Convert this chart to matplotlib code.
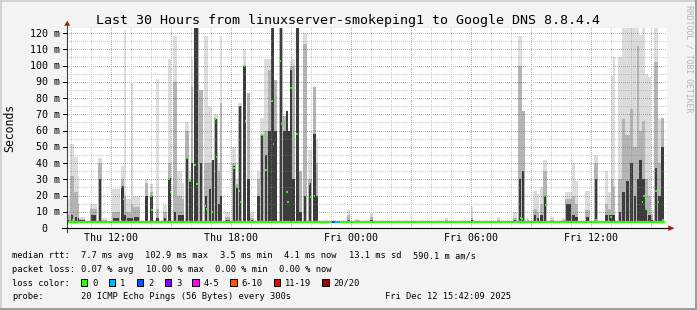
import matplotlib
matplotlib.use("Agg")
import numpy as np
import matplotlib.pyplot as plt
import matplotlib.transforms as mtransforms
from matplotlib.patches import Rectangle, Polygon

# ---------------- data ----------------
title = "Last 30 Hours from linuxserver-smokeping1 to Google DNS 8.8.4.4"
x_start_hour = 9.8     # Thu 09:48 (hours since Thu 00:00)
x_end_hour = 39.8      # Fri 15:48
last_data_hour = 39.72
x_tick_hours = [12, 18, 24, 30, 36]
x_tick_labels = ["Thu 12:00", "Thu 18:00", "Fri 00:00", "Fri 06:00", "Fri 12:00"]
y_tick_values = [0, 10, 20, 30, 40, 50, 60, 70, 80, 90, 100, 110, 120]
y_tick_labels = ["0", "10 m", "20 m", "30 m", "40 m", "50 m", "60 m", "70 m",
                 "80 m", "90 m", "100 m", "110 m", "120 m"]
y_max_ms = 123.08
baseline_median_ms = 4.0
min_rtt_ms = 3.5

# smoke (ping spread) per event: centre hour, duration (minutes), ms levels
smoke_hour = [9.85, 10.05, 10.25, 10.375, 10.55, 11.125, 11.45, 11.675, 12.25, 12.575,
              12.7, 12.875, 13.05, 13.275, 13.775, 14.025, 14.325, 14.7, 14.925, 15.2,
              15.425, 15.6, 15.8, 15.95, 16.05, 16.275, 16.5, 16.75, 16.95, 17.1,
              17.25, 17.425, 17.5, 17.825, 18.15, 18.3, 18.45, 18.675, 18.875, 19.05,
              19.375, 19.55, 19.75, 19.925, 20.075, 20.225, 20.5, 20.675, 20.8, 20.9,
              21.0, 21.125, 21.325, 21.475, 21.7, 21.95, 22.175, 22.3, 23.875, 24.3,
              25.025, 28.775, 30.05, 31.375, 32.2, 32.45, 32.6, 32.85, 33.2, 33.35,
              33.525, 33.7, 34.05, 34.625, 34.875, 35.125, 35.275, 35.825, 36.25, 36.775,
              36.95, 37.05, 37.15, 37.45, 37.625, 37.825, 38.025, 38.2, 38.35, 38.475,
              38.625, 38.75, 38.925, 39.05, 39.25, 39.425, 39.575]
smoke_minutes = [10, 10, 10, 5, 20, 20, 10, 15, 25, 10,
                 5, 15, 5, 20, 10, 10, 10, 10, 10, 10,
                 15, 5, 10, 5, 5, 15, 10, 10, 10, 5,
                 10, 10, 5, 15, 10, 5, 10, 10, 10, 10,
                 10, 10, 10, 10, 10, 10, 10, 10, 5, 5,
                 5, 10, 10, 10, 10, 10, 10, 5, 10, 10,
                 10, 10, 5, 10, 10, 10, 10, 5, 10, 5,
                 10, 10, 10, 10, 20, 10, 10, 15, 10, 10,
                 10, 5, 5, 10, 10, 15, 10, 10, 5, 10,
                 10, 10, 10, 5, 10, 10, 10]
smoke_top_ms = [18, 52, 44, 32, 7, 15, 43, 6, 24, 38,
                122, 18, 89, 20, 30, 27, 92, 14, 104, 118,
                35, 28, 65, 35, 104, 123, 85, 118, 75, 42,
                70, 40, 118, 10, 50, 30, 77, 110, 83, 10,
                35, 68, 104, 104, 123, 91, 123, 69, 72, 60,
                103, 104, 123, 35, 120, 48, 87, 55, 11, 5.5,
                9, 6, 13, 7, 10, 118, 72, 6, 23, 21,
                25, 42, 7, 6, 22, 40, 29, 23, 45, 35,
                22, 94, 105, 105, 123, 123, 123, 123, 123, 119,
                123, 95, 93, 11, 123, 67, 68]
smoke_mid_ms = [8, 32, 22, 15, 5.5, 12, 40, 5, 10, 30,
                20, 10, 15, 13, 28, 22, 12, 10, 40, 90,
                20, 18, 60, 30, 87, 123, 85, 40, 40, 42,
                67, 35, 77, 7, 40, 27, 75, 100, 83, 6,
                30, 57, 60, 97, 123, 91, 123, 69, 72, 60,
                100, 100, 123, 35, 113, 30, 87, 40, 8, 5,
                7, 5, 6, 5, 6, 100, 72, 5, 12, 10,
                15, 35, 5, 5, 18, 20, 15, 11, 40, 15,
                12, 30, 25, 30, 67, 57, 73, 50, 112, 60,
                66, 30, 20, 8, 102, 40, 68]
smoke_dark_ms = [5, 8, 7, 6, 5, 8, 30, 4.5, 6, 26,
                 8, 6, 6, 7, 20, 20, 6, 6, 31, 10,
                 8, 8, 43, 29, 40, 123, 40, 20, 24, 42,
                 67, 15, 20, 5, 38, 25, 75, 100, 30, 5,
                 20, 57, 45, 60, 123, 60, 123, 60, 72, 60,
                 97, 30, 123, 10, 20, 28, 58, 20, 5, 4.5,
                 5, 4.5, 5, 4.5, 5, 30, 35, 4.5, 8, 6,
                 8, 20, 4.5, 4.5, 15, 8, 7, 7, 30, 8,
                 8, 8, 8, 10, 22, 29, 40, 20, 30, 42,
                 30, 12, 8, 5, 37, 20, 50]

# elevated median values (one 5-minute step each)
median_hour = [10.075, 12.525, 12.625, 13.985, 14.065, 14.9, 14.975, 15.8, 15.95, 16.2,
               16.3, 16.725, 16.8, 17.075, 17.2, 17.3, 18.15, 18.3, 18.425, 18.5,
               18.65, 18.725, 19.55, 19.625, 19.75, 20.05, 20.125, 20.475, 20.55, 20.8,
               20.85, 21.0, 21.3, 21.925, 22.0, 22.175, 32.475, 32.55, 33.675, 33.75,
               36.25, 37.0, 38.575, 38.65, 38.75, 39.25, 39.35, 39.6]
median_ms = [5, 25, 18, 20, 11, 30, 22, 43, 29, 39,
             27, 13.5, 12, 10, 67, 44, 37, 25, 23, 16,
             100, 66, 57, 36, 36, 78, 52, 103, 64, 22,
             16, 86, 58, 27, 19, 20, 6, 5.5, 20, 14,
             5, 6.5, 16, 20, 12, 23, 16, 5]

# steps with packet loss (start hour, minutes, loss class index)
loss_hour = [23.05, 23.2]
loss_minutes = [10, 15]
loss_class = [2, 1]

loss_labels = ["0", "1", "2", "3", "4-5", "6-10", "11-19", "20/20"]
loss_colors = ["#26ff00", "#00b8ff", "#0059ff", "#7e00ff", "#ff00ff",
               "#ff5500", "#ff0000", "#a10000"]

rtt_stats = ["7.7 ms avg", "102.9 ms max", "3.5 ms min", "4.1 ms now",
             "13.1 ms sd", "590.1 m am/s"]
loss_stats = ["0.07 % avg", "10.00 % max", "0.00 % min", "0.00 % now"]
probe_text = "20 ICMP Echo Pings (56 Bytes) every 300s"
stamp_text = "Fri Dec 12 15:42:09 2025"
watermark = "RRDTOOL / TOBI OETIKER"

# ---------------- figure ----------------
W, H = 697, 310
PW, PH = 600, 200          # plot area in pixels
MONO = "DejaVu Sans Mono"
fig = plt.figure(figsize=(W / 100, H / 100), dpi=100)
fig.patch.set_facecolor("#f3f3f3")

ax = fig.add_axes([67 / W, (H - 228) / H, PW / W, PH / H])
ax.set_facecolor("white")
for s in ax.spines.values():
    s.set_visible(False)
ax.set_xticks([])
ax.set_yticks([])

px_ms = y_max_ms / PH  # ms per pixel

# smoke
widths = [m / 60.0 for m in smoke_minutes]
ax.bar(smoke_hour, [t - min_rtt_ms for t in smoke_top_ms], bottom=min_rtt_ms,
       width=widths, color="#dcdcdc", linewidth=0, zorder=1)
ax.bar(smoke_hour, [t - min_rtt_ms for t in smoke_mid_ms], bottom=min_rtt_ms,
       width=widths, color="#b4b4b4", linewidth=0, zorder=2)
ax.bar(smoke_hour, [t - min_rtt_ms for t in smoke_dark_ms], bottom=min_rtt_ms,
       width=[w * 0.8 for w in widths], color="#3c3c3c", linewidth=0, zorder=3)

# baseline median
ax.fill_between([x_start_hour, last_data_hour],
                baseline_median_ms - px_ms, baseline_median_ms + px_ms,
                color=loss_colors[0], linewidth=0, zorder=4)
# loss-coloured steps on the baseline
ax.bar([h + m / 120.0 for h, m in zip(loss_hour, loss_minutes)], 2 * px_ms,
       bottom=baseline_median_ms - px_ms, width=[m / 60.0 for m in loss_minutes],
       color=[loss_colors[c] for c in loss_class], linewidth=0, align="center", zorder=5)
# elevated medians
ax.bar(median_hour, 2 * px_ms, bottom=[m - px_ms for m in median_ms],
       width=5 / 60.0, color=loss_colors[0], linewidth=0, zorder=5)

# dotted grid, rendered pixel-exact like rrdtool (on top of the smoke)
grid = np.zeros((PH, PW, 4))
minor_rgba = (0.55, 0.55, 0.55, 0.45)
major_rgba = (1.0, 0.0, 0.0, 0.42)
for v in range(5, 121, 5):
    r = PH - int(round(v / px_ms))
    grid[r, 0::2] = major_rgba if v % 10 == 0 else minor_rgba
for h in range(10, 40):
    c = int(round((h - x_start_hour) / (x_end_hour - x_start_hour) * PW))
    grid[0::2, c] = major_rgba if h % 3 == 0 else minor_rgba
ax.imshow(grid, extent=(x_start_hour, x_end_hour, 0, y_max_ms), origin="upper",
          aspect="auto", interpolation="nearest", resample=False, zorder=6)
ax.set_xlim(x_start_hour, x_end_hour)
ax.set_ylim(0, y_max_ms)

# axes lines
ax.axhline(0, xmin=-5 / 600, xmax=1 + 2 / 600, color="black", lw=0.8,
           clip_on=False, zorder=7)
ax.axvline(x_start_hour, ymin=-4 / 200, ymax=1 + 2 / 200, color="#404040", lw=0.8,
           clip_on=False, zorder=7)

# tick marks
ytick_tr = mtransforms.blended_transform_factory(ax.transAxes, ax.transData)
for v in y_tick_values:
    ax.plot([-4 / 600, 0], [v, v], transform=ytick_tr, color="black", lw=0.72,
            clip_on=False, zorder=7)

# tick labels
ylab_tr = mtransforms.offset_copy(ax.get_yaxis_transform(), fig=fig, x=-7, y=-3.6, units="dots")
ylab0_tr = mtransforms.offset_copy(ax.get_yaxis_transform(), fig=fig, x=-20, y=-3.6, units="dots")
for v, lab in zip(y_tick_values, y_tick_labels):
    ax.text(0, v, lab, transform=ylab0_tr if v == 0 else ylab_tr, ha="right",
            va="baseline", fontsize=7.2, family=MONO, color="black", clip_on=False)
xlab_tr = mtransforms.offset_copy(ax.get_xaxis_transform(), fig=fig, x=0, y=-12.7, units="dots")
for h, lab in zip(x_tick_hours, x_tick_labels):
    ax.text(h, 0, lab, transform=xlab_tr, ha="center", va="baseline",
            fontsize=7.2, family=MONO, color="black", clip_on=False)

# ---------------- overlay (pixel space) ----------------
ov = fig.add_axes([0, 0, 1, 1], zorder=10)
ov.set_xlim(0, W)
ov.set_ylim(H, 0)
ov.axis("off")

# 3D frame
ov.add_patch(Rectangle((0, 0), W, 2, color="#d2d2d2", lw=0))
ov.add_patch(Rectangle((0, 0), 2, H, color="#d2d2d2", lw=0))
ov.add_patch(Rectangle((0, H - 2), W, 2, color="#9c9c9c", lw=0))
ov.add_patch(Rectangle((W - 2, 0), 2, H, color="#9c9c9c", lw=0))

# arrows
arrow_c = "#9e1b1b"
ov.add_patch(Polygon([(668.3, 225.3), (674.5, 228.2), (668.3, 231.0)], closed=True,
                     color=arrow_c, lw=0))
ov.add_patch(Polygon([(64.2, 25.8), (67.2, 20.8), (70.2, 25.8)], closed=True,
                     color=arrow_c, lw=0))


def ptext(x, y, s, **kw):
    kw.setdefault("family", MONO)
    kw.setdefault("color", "black")
    fig.text(x / W, 1 - y / H, s, **kw)


ptext(347.5, 23.7, title, ha="center", va="baseline", fontsize=9.6)
ptext(9.8, 127.5, "Seconds", ha="center", va="center", rotation=90, fontsize=8.3)
ptext(688.8, 5.0, watermark, ha="center", va="top", rotation=270, fontsize=5.9,
      color="#b4b4b4")

LF = 6.34
# line 1
base1 = 258.2
ptext(12.3, base1, "median rtt:", va="baseline", fontsize=LF)
for x, s in zip([80.7, 145.0, 220.0, 284.3, 349.3, 413.3], rtt_stats):
    ptext(x, base1, s, va="baseline", fontsize=LF)
# line 2
base2 = 271.9
ptext(12.3, base2, "packet loss:", va="baseline", fontsize=LF)
for x, s in zip([80.7, 145.7, 215.0, 279.3], loss_stats):
    ptext(x, base2, s, va="baseline", fontsize=LF)
# line 3
base3 = 285.6
ptext(12.3, base3, "loss color:", va="baseline", fontsize=LF)
box_x = [81.0, 109.0, 136.7, 164.7, 192.3, 230.3, 274.0, 322.3]
lab_x = [92.3, 120.3, 148.3, 176.0, 203.7, 241.7, 285.3, 333.7]
for bx, lx, lab, col in zip(box_x, lab_x, loss_labels, loss_colors):
    ov.add_patch(Rectangle((bx, 278.6), 6.2, 7.4, facecolor=col, edgecolor="black", lw=0.72))
    ptext(lx, base3, lab, va="baseline", fontsize=LF)
# line 4
base4 = 299.3
ptext(12.3, base4, "probe:", va="baseline", fontsize=LF)
ptext(80.7, base4, probe_text, va="baseline", fontsize=LF)
ptext(385.0, base4, stamp_text, va="baseline", fontsize=LF)

fig.savefig("out.png", dpi=100, facecolor=fig.get_facecolor())
